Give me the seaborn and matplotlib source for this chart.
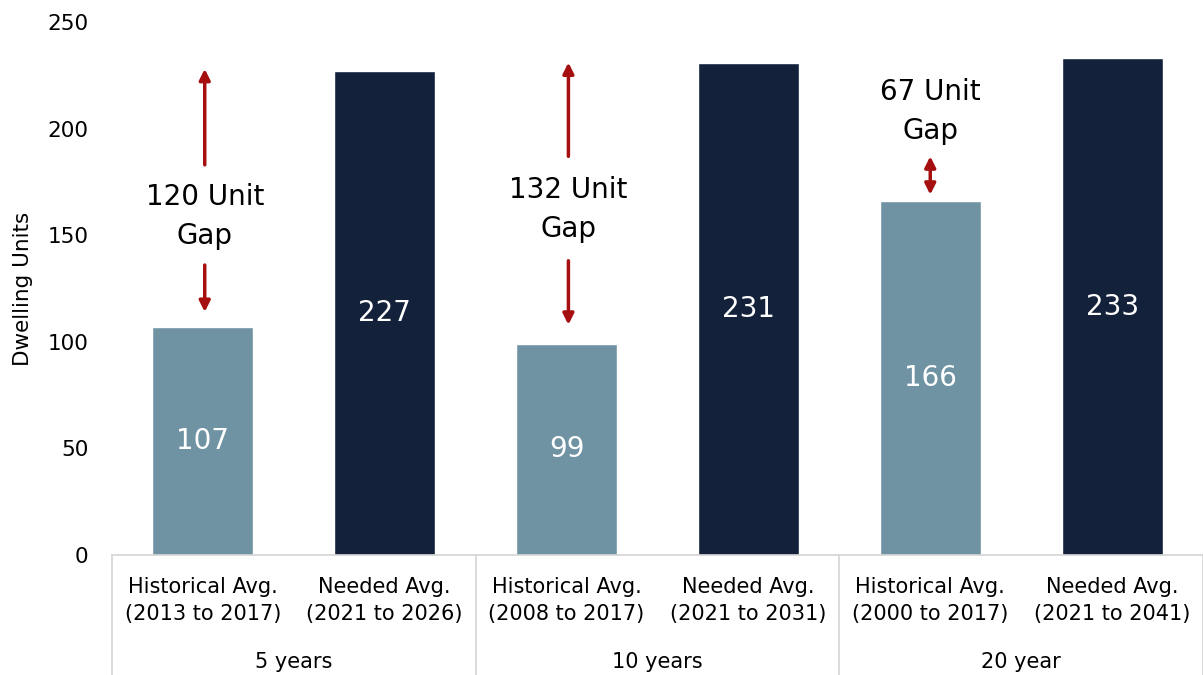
import matplotlib
matplotlib.use("Agg")
import matplotlib.pyplot as plt
import seaborn as sns
import pandas as pd
from matplotlib.lines import Line2D

# Average dwelling units per year
bar_labels = [
    "Historical Avg.\n(2013 to 2017)", "Needed Avg.\n(2021 to 2026)",
    "Historical Avg.\n(2008 to 2017)", "Needed Avg.\n(2021 to 2031)",
    "Historical Avg.\n(2000 to 2017)", "Needed Avg.\n(2021 to 2041)",
]
kinds = ["Historical", "Needed", "Historical", "Needed", "Historical", "Needed"]
values = [107, 227, 99, 231, 166, 233]
groups = ["5 years", "10 years", "20 year"]
gaps = [120, 132, 67]

colors = {"Historical": "#7093a4", "Needed": "#14213a"}
arrow_color = "#a50f0f"

sns.set_theme(style="white")
plt.rcParams["font.family"] = ["DejaVu Sans"]
plt.rcParams["text.color"] = "black"
plt.rcParams["axes.labelcolor"] = "black"
plt.rcParams["xtick.color"] = "black"
plt.rcParams["ytick.color"] = "black"

df = pd.DataFrame({"label": bar_labels, "kind": kinds, "value": values})

fig = plt.figure(figsize=(12.03, 6.75), dpi=100)
ax = fig.add_axes([0.0931, 0.1778, 0.9069, 0.7896])

sns.barplot(data=df, x="label", y="value", hue="kind", palette=colors,
            width=0.555, dodge=False, legend=False, ax=ax, saturation=1)

ax.set_ylim(0, 250)
ax.set_yticks(range(0, 251, 50))
ax.set_xlim(-0.5, 5.5)
ax.set_xlabel("")
ax.set_ylabel("Dwelling Units", fontsize=15.5, labelpad=10)
ax.tick_params(axis="y", labelsize=15.5, pad=17, length=0)
ax.tick_params(axis="x", labelsize=15, pad=16, length=0)
for lbl in ax.get_xticklabels():
    lbl.set_linespacing(1.45)

for s in ["left", "right", "top"]:
    ax.spines[s].set_visible(False)
ax.spines["bottom"].set_color("#d4d4d4")
ax.spines["bottom"].set_linewidth(1.2)

# Value labels inside bars
for i, v in enumerate(values):
    ax.text(i, v / 2, f"{v}", ha="center", va="center", color="white", fontsize=20)

# Group separators and group labels below the axis
trans = ax.get_xaxis_transform()
for k in range(4):
    xsep = -0.5 + 2 * k
    ax.add_line(Line2D([xsep, xsep], [0, -0.23], transform=trans, color="#d4d4d4",
                       lw=1.2, clip_on=False))
for k, g in enumerate(groups):
    ax.text(2 * k + 0.5, -0.2, g, transform=trans, ha="center", va="center",
            fontsize=15)

# Gap annotations
def arrow(x, y0, y1, style="-|>"):
    ax.annotate("", xy=(x, y1), xytext=(x, y0),
                arrowprops=dict(arrowstyle=style, color=arrow_color, lw=2.5,
                                mutation_scale=16, shrinkA=0, shrinkB=0))

def gap_label(x, y, n):
    ax.text(x, y, f"{n} Unit\nGap", ha="center", va="center",
            fontsize=20, linespacing=1.5)

# 5 years
arrow(0.01, 183, 228)
arrow(0.01, 136, 114)
gap_label(0.01, 159, gaps[0])
# 10 years
arrow(2.01, 187, 231)
arrow(2.01, 138, 108)
gap_label(2.01, 162, gaps[1])
# 20 year
arrow(4.0, 169, 187, style="<|-|>")
gap_label(4.0, 208, gaps[2])

fig.savefig("out.png", dpi=100)
